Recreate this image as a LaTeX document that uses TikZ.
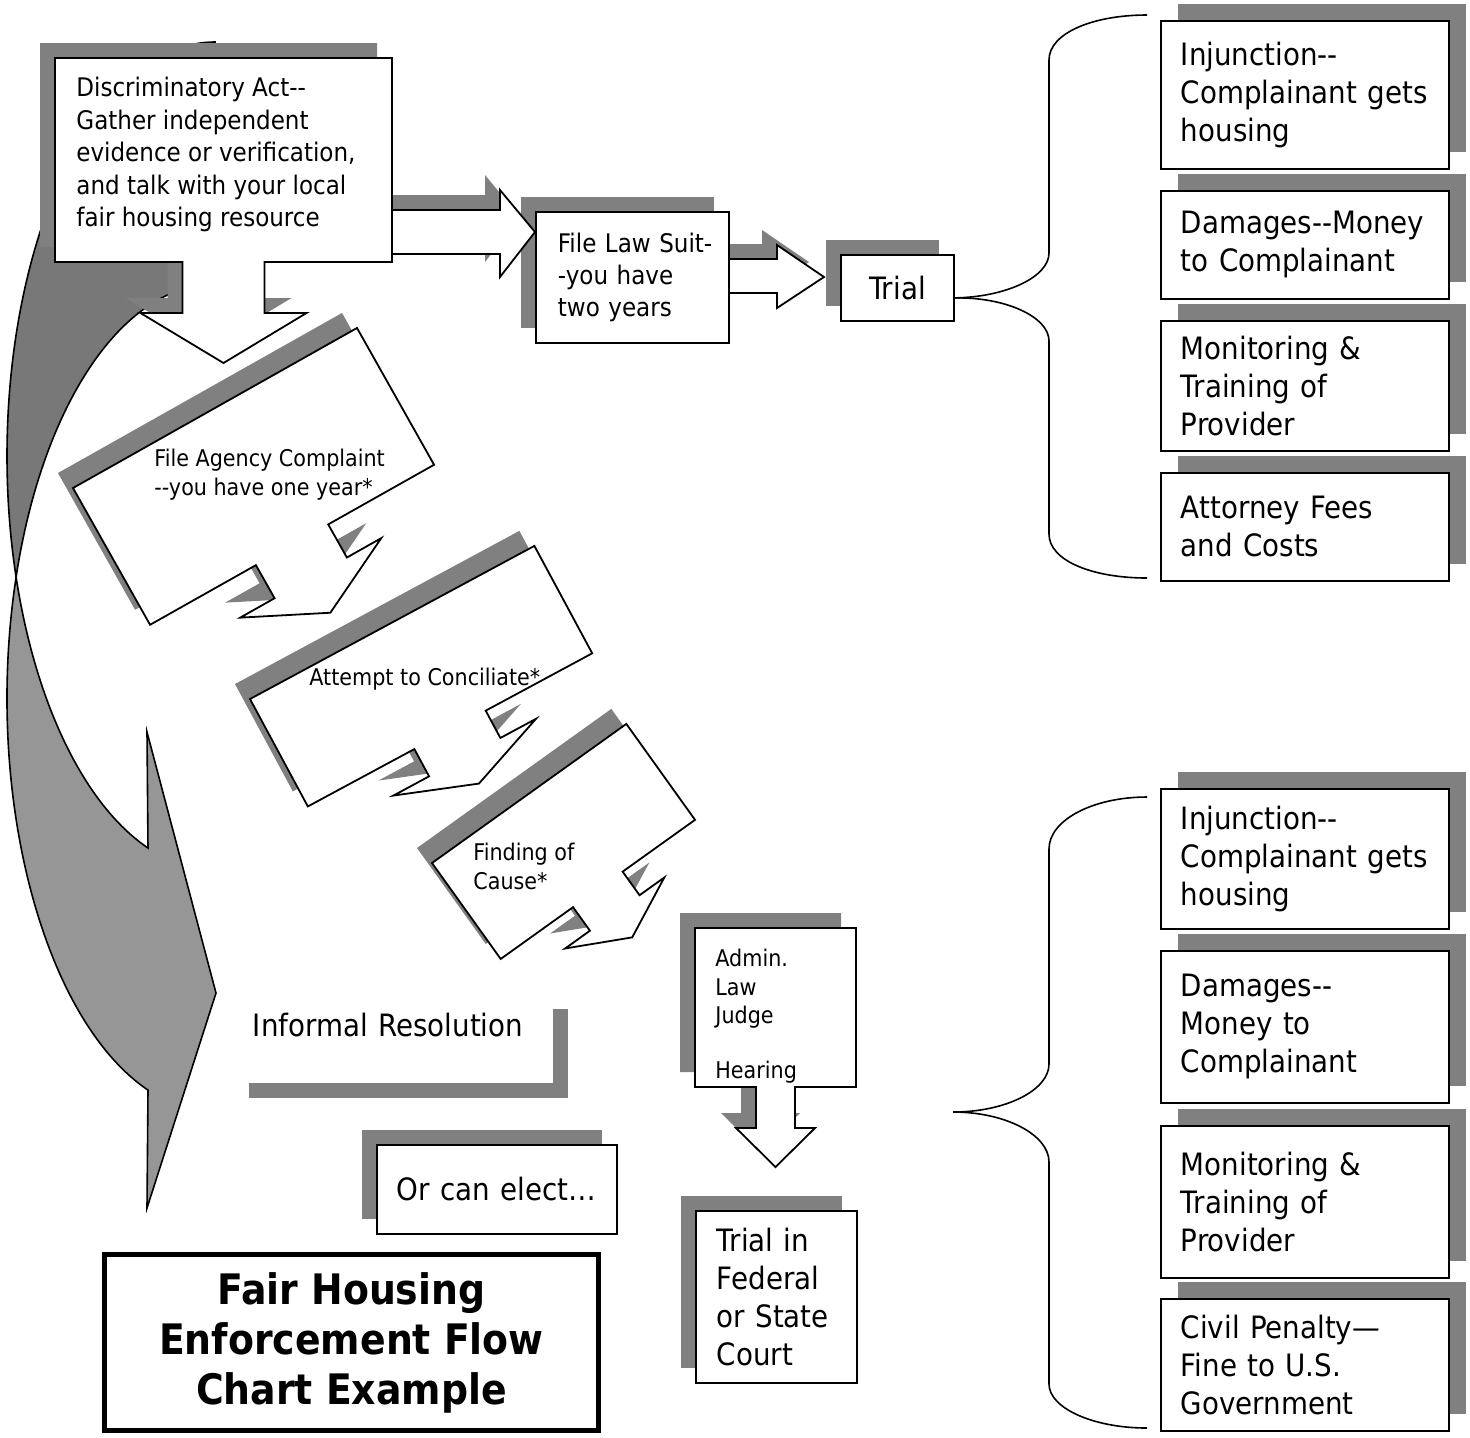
\documentclass[tikz,border=0pt]{standalone}
\usepackage{fontspec}
\setmainfont{DejaVu Sans}[FakeStretch=0.9, Ligatures=TeXOff]
\usetikzlibrary{shadows}

\definecolor{shadowgray}{RGB}{128,128,128}
\definecolor{backgray}{RGB}{120,120,120}
\definecolor{frontgray}{RGB}{150,150,150}

% box with a down arrow: width, height, half stem, stem length, wing, head depth
\newcommand{\calloutpath}[6]{%
  (0,0) -- (#1,0) -- (#1,#2) -- ({#1/2+#3},#2) -- ({#1/2+#3},{#2+#4})
  -- ({#1/2+#3+#5},{#2+#4}) -- ({#1/2},{#2+#4+#6})
  -- ({#1/2-#3-#5},{#2+#4}) -- ({#1/2-#3},{#2+#4}) -- ({#1/2-#3},#2)
  -- (0,#2) -- cycle}

\begin{document}
\begin{tikzpicture}[x=0.5pt, y=-0.5pt,
  large/.style={font=\fontsize{15.4}{19}\selectfont},
  medium/.style={font=\fontsize{12.8}{16.2}\selectfont},
  small/.style={font=\fontsize{11.5}{14.2}\selectfont},
  outline/.style={draw=black, line width=0.9pt},
  shade left/.style={drop shadow={shadow xshift=-7.5pt, shadow yshift=7.5pt,
      fill=shadowgray, opacity=1}},
  shade right/.style={drop shadow={shadow xshift=8.5pt, shadow yshift=8.5pt,
      fill=shadowgray, opacity=1}},
  box/.style={outline, fill=white, rectangle, anchor=north west, align=left,
      inner ysep=0pt},
  remedy/.style={box, large, shade right, minimum width=144pt,
      text width=124pt, inner xsep=10pt},
  label text/.style={align=left, anchor=north west, inner sep=0pt},
  brace/.style={draw=black, line width=0.8pt}]

\useasboundingbox (0,0) rectangle (1470,1437);

% curved arrow on the left
\filldraw[fill=backgray, line width=0.8pt]
  (215,42) arc[start angle=270, end angle=163, x radius=208, y radius=414]
  arc[start angle=197, end angle=270, x radius=208, y radius=414] -- cycle;
\filldraw[fill=frontgray, line width=0.8pt]
  (148,848) arc[start angle=108.8, end angle=163, x radius=208, y radius=414]
  arc[start angle=197, end angle=108.8, x radius=208, y radius=414]
  -- (147,1208) -- (216,993) -- (147,732) -- cycle;

% law suit branch
\filldraw[fill=white, line width=0.9pt, shade left]
  (728,259) -- (777,259) -- (777,245) -- (824,277) -- (777,308)
  -- (777,293) -- (728,293) -- cycle;
\node[box, large, shade left, minimum width=56.5pt, minimum height=33pt,
  align=center, inner xsep=0pt] (trial) at (840,254) {Trial};
\node[box, medium, shade left, minimum width=96.5pt, minimum height=65.5pt,
  text width=74.5pt, inner xsep=11pt] (suit) at (535,211)
  {\mbox{File Law Suit-}\\\mbox{-you have}\\\mbox{two years}};
\filldraw[fill=white, line width=0.9pt, shade left]
  (392,210) -- (500,210) -- (500,190) -- (535,232) -- (500,277)
  -- (500,254) -- (392,254) -- cycle;

% callouts
\filldraw[fill=white, line width=0.9pt, shade left, shift={(55,58)}]
  \calloutpath{337}{204}{41}{51}{42}{50};

\fill[shadowgray, shift={(58,473)}, rotate=29.4]
  \calloutpath{326}{157}{41.5}{38}{39.5}{40};
\filldraw[fill=white, line width=0.9pt, shift={(73,488)}, rotate=29.4]
  \calloutpath{326}{157}{41.5}{38}{39.5}{40};

\fill[shadowgray, shift={(235,684)}, rotate=28.3]
  \calloutpath{323}{122}{40.5}{31}{40.5}{30};
\filldraw[fill=white, line width=0.9pt, shift={(250,699)}, rotate=28.3]
  \calloutpath{323}{122}{40.5}{31}{40.5}{30};

\fill[shadowgray, shift={(417,848)}, rotate=35.6]
  \calloutpath{239}{118}{30.5}{29}{30.5}{30};
\filldraw[fill=white, line width=0.9pt, shift={(432,863)}, rotate=35.6]
  \calloutpath{239}{118}{30.5}{29}{30.5}{30};

\filldraw[fill=white, line width=0.9pt, shade left, shift={(695,928)}]
  \calloutpath{161}{159}{19.5}{41}{20}{39};

% lower left boxes
\node[box, large, draw=none, drop shadow={shadow xshift=7.5pt,
    shadow yshift=-7.5pt, fill=shadowgray, opacity=1},
  minimum width=159.5pt, text width=140.5pt, inner xsep=9.5pt,
  text height=21.5pt, text depth=23pt] (informal) at (233,993)
  {Informal~Resolution};
\node[box, large, shade left, minimum width=120pt, minimum height=44.5pt,
  text width=100pt, inner xsep=10pt] (elect) at (376,1144) {Or~can~elect…};
\node[box, large, shade left, minimum width=80.5pt, minimum height=86pt,
  text width=59.5pt, inner xsep=10.5pt] (trialcourt) at (695,1210)
  {Trial~in\\Federal\\or~State\\Court};
\node[draw=black, line width=2.5pt, minimum width=247pt, minimum height=88pt,
  align=center, font=\bfseries\fontsize{21}{25}\selectfont] (title)
  at (351.5,1342.5) {Fair Housing\\Enforcement Flow\\Chart Example};

% remedies
\foreach \t/\h/\txt [count=\i] in {20/148/{Injunction--\\Complainant~gets\\housing},
    190/108/{Damages--Money\\to~Complainant},
    320/130/{Monitoring~\&\\Training~of\\Provider},
    472/108/{Attorney~Fees\\and~Costs}}
  \node[remedy, minimum height=\h*0.5pt] (court-\i) at (1160,\t) {\txt};

\foreach \t/\h/\txt [count=\i] in {788/140/{Injunction--\\Complainant~gets\\housing},
    950/152/{Damages--\\Money~to\\Complainant},
    1125/152/{Monitoring~\&\\Training~of\\Provider},
    1298/132/{Civil~Penalty—\\Fine~to~U.S.\\Government}}
  \node[remedy, minimum height=\h*0.5pt] (alj-\i) at (1160,\t) {\txt};

% braces
\coordinate (tip-a) at ([yshift=-5pt]trial.east);
\coordinate (tip-b) at (953,1112);
\draw[brace] (tip-a) .. controls (1006,297) and (1049,277) .. (1049,253)
  -- (1049,60) .. controls (1049,33) and (1093,15) .. (1147,15);
\draw[brace] (tip-a) .. controls (1006,297) and (1049,317) .. (1049,341)
  -- (1049,534) .. controls (1049,561) and (1093,578) .. (1147,578);
\draw[brace] (tip-b) .. controls (1006,1112) and (1049,1090) .. (1049,1064)
  -- (1049,849) .. controls (1049,820) and (1093,797) .. (1147,797);
\draw[brace] (tip-b) .. controls (1006,1112) and (1049,1135) .. (1049,1162)
  -- (1049,1384) .. controls (1049,1408) and (1093,1428) .. (1147,1428);

% texts of the callouts
\node[label text, medium] (act) at (76,77)
  {Discriminatory Act--\\Gather independent\\evidence or verification,\\and talk with your local\\fair housing resource};
\node[label text, small] (agency) at (154,449)
  {File Agency Complaint\\--you have one year*};
\node[label text, small] (conciliate) at (309,668) {Attempt to Conciliate*};
\node[label text, small] (cause) at (473,843) {Finding of\\Cause*};
\node[label text, small] (judge) at (715,949)
  {Admin.\\Law\\Judge\\[13pt]Hearing};

\end{tikzpicture}
\end{document}
